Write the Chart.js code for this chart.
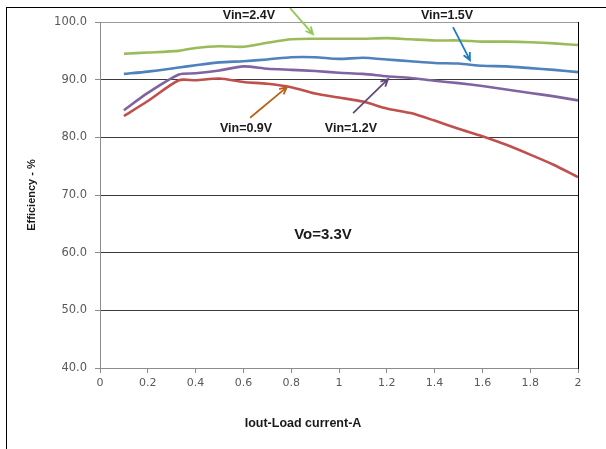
<!DOCTYPE html>
<html>
<head>
<meta charset="utf-8">
<script src="https://cdn.jsdelivr.net/npm/chart.js@4/dist/chart.umd.min.js"></script>
<style>
  body { margin: 0; background: #fff; }
  #wrap { position: relative; width: 606px; height: 449px; }
  #frame { position: absolute; left: 6px; top: 7px; right: 0; bottom: 0; border-top: 1px solid #000; border-left: 1px solid #000; pointer-events: none; }
</style>
</head>
<body>
<div id="wrap">
  <canvas id="c" width="606" height="449"></canvas>
  <div id="frame"></div>
</div>
<script>
// load current in A
const iout = [0.1, 0.2, 0.33, 0.4, 0.5, 0.6, 0.7, 0.8, 0.9, 1.0, 1.1, 1.2, 1.3, 1.4, 1.5, 1.6, 1.7, 1.8, 1.9, 2.0];

// efficiency in %
const eff09 = [83.7, 86.3, 89.9, 89.9, 90.2, 89.6, 89.3, 88.7, 87.6, 86.9, 86.2, 85.0, 84.2, 82.9, 81.5, 80.2, 78.7, 77.0, 75.2, 73.1];
const eff12 = [84.7, 87.7, 90.9, 91.1, 91.6, 92.3, 91.9, 91.7, 91.5, 91.2, 91.0, 90.6, 90.3, 89.8, 89.4, 88.9, 88.3, 87.7, 87.1, 86.4];
const eff15 = [91.0, 91.4, 92.1, 92.5, 93.0, 93.2, 93.5, 93.9, 93.9, 93.6, 93.8, 93.5, 93.2, 92.9, 92.8, 92.4, 92.3, 92.0, 91.7, 91.3];
const eff24 = [94.5, 94.7, 95.0, 95.5, 95.8, 95.7, 96.4, 97.0, 97.1, 97.1, 97.1, 97.2, 97.0, 96.8, 96.8, 96.6, 96.6, 96.5, 96.3, 96.0];

const seriesNames = ['Vin=0.9V', 'Vin=1.2V', 'Vin=1.5V', 'Vin=2.4V'];
const yTicks = [40, 50, 60, 70, 80, 90, 100];

// callouts: label position and arrow, in data units
const notes = [
  { text: 'Vin=2.4V', x: 0.623, y: 101.2, from: [0.795, 102.4], to: [0.891, 97.9], color: '#92c954' },
  { text: 'Vin=1.5V', x: 1.452, y: 101.2, from: [1.477, 99.1], to: [1.548, 93.4], color: '#1f7ac2' },
  { text: 'Vin=0.9V', x: 0.611, y: 81.6, from: [0.628, 83.4], to: [0.782, 88.7], color: '#b8621b' },
  { text: 'Vin=1.2V', x: 1.05, y: 81.6, from: [1.059, 84.2], to: [1.205, 90.1], color: '#604a7b' }
];

const pts = (arr) => arr.map((v, i) => ({ x: iout[i], y: v }));

const callouts = {
  id: 'callouts',
  afterDraw(chart) {
    const { ctx, scales: { x, y } } = chart;
    ctx.save();
    notes.forEach(n => {
      const x1 = x.getPixelForValue(n.from[0]), y1 = y.getPixelForValue(n.from[1]);
      const x2 = x.getPixelForValue(n.to[0]), y2 = y.getPixelForValue(n.to[1]);
      const a = Math.atan2(y2 - y1, x2 - x1);
      ctx.strokeStyle = n.color;
      ctx.lineWidth = 1.8;
      ctx.beginPath();
      ctx.moveTo(x1, y1);
      ctx.lineTo(x2, y2);
      ctx.moveTo(x2 - 8 * Math.cos(a - 0.45), y2 - 8 * Math.sin(a - 0.45));
      ctx.lineTo(x2, y2);
      ctx.lineTo(x2 - 8 * Math.cos(a + 0.45), y2 - 8 * Math.sin(a + 0.45));
      ctx.stroke();
      ctx.fillStyle = '#1a1a1a';
      ctx.font = 'bold 12.5px "Liberation Sans"';
      ctx.textAlign = 'center';
      ctx.textBaseline = 'middle';
      ctx.fillText(n.text, x.getPixelForValue(n.x), y.getPixelForValue(n.y));
    });
    ctx.font = 'bold 15px "Liberation Sans"';
    ctx.fillText('Vo=3.3V', x.getPixelForValue(0.933), y.getPixelForValue(63.1));
    ctx.restore();
  }
};

new Chart(document.getElementById('c'), {
  type: 'line',
  data: {
    datasets: [
      { label: seriesNames[0], data: pts(eff09), borderColor: '#c0504d' },
      { label: seriesNames[1], data: pts(eff12), borderColor: '#8064a2' },
      { label: seriesNames[2], data: pts(eff15), borderColor: '#4f81bd' },
      { label: seriesNames[3], data: pts(eff24), borderColor: '#9bbb59' }
    ]
  },
  options: {
    responsive: false,
    animation: false,
    layout: { padding: { top: 22, left: 0, right: 0, bottom: 0 } },
    elements: {
      line: { borderWidth: 2.6, tension: 0.25, fill: false },
      point: { radius: 0 }
    },
    plugins: {
      legend: { display: false },
      tooltip: { enabled: false },
      title: {
        display: true,
        position: 'bottom',
        text: 'Iout-Load current-A',
        color: '#1a1a1a',
        font: { family: 'Liberation Sans', size: 12.5, weight: 'bold' },
        padding: { top: 0, bottom: 18 }
      }
    },
    scales: {
      x: {
        type: 'linear',
        min: 0, max: 2,
        afterFit: (s) => { s.height = 48; },
        ticks: {
          stepSize: 0.2,
          color: '#595959',
          padding: 4,
          maxRotation: 0,
          font: { family: 'DejaVu Sans', size: 11 },
          callback: (v) => String(+v.toFixed(1))
        },
        grid: { drawOnChartArea: false, tickLength: 5, tickColor: '#8c8c8c' },
        border: { color: '#8c8c8c' }
      },
      y: {
        min: 40, max: 100,
        afterFit: (s) => { s.width = 100; },
        afterBuildTicks: (s) => { s.ticks = yTicks.map(v => ({ value: v })); },
        ticks: {
          color: '#595959',
          padding: 8,
          font: { family: 'DejaVu Sans', size: 11.5 },
          callback: (v) => v.toFixed(1)
        },
        grid: {
          tickLength: 5,
          tickColor: '#8c8c8c',
          color: (c) => (c.tick.value === 100 || c.tick.value === 40) ? '#9a9a9a' : '#3a3a3a'
        },
        border: { color: '#8c8c8c' },
        title: {
          display: true,
          text: 'Efficiency - %',
          color: '#1a1a1a',
          font: { family: 'Liberation Sans', size: 11, weight: 'bold' },
          padding: { top: 25, bottom: 0 }
        }
      },
      y1: {
        position: 'right',
        min: 40, max: 100,
        afterFit: (s) => { s.width = 28; },
        ticks: { display: false },
        grid: { drawOnChartArea: false, drawTicks: false },
        border: { color: '#000' }
      }
    }
  },
  plugins: [callouts]
});
</script>
</body>
</html>
